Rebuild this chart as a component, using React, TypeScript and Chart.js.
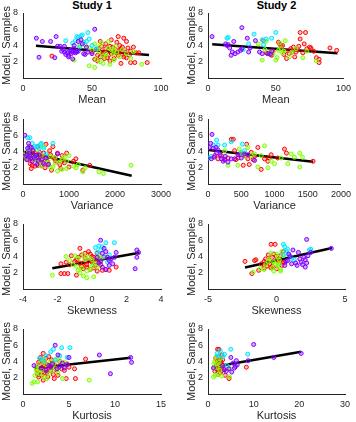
import React, { useEffect, useRef } from 'react';
import { Chart, registerables } from 'chart.js';
Chart.register(...registerables);

type Pt = [number, number];

// ---------- Study 1 ----------
const s1MeanPurple: Pt[] = [[9.7,4.9],[11.6,2.55],[14,4.5],[20,4.5],[24,5.1],[23,2.5],[25,3.9],[27,3.9],[28,3.3],[29,3.5],[30,3.2],[31,2.9],[32,3.1],[33,2.6],[34,3.4],[35,3.3],[35,3.0],[36,3.2],[36,2.35],[37,3.6],[37,4.0],[38,3.1],[38,3.3],[39,3.2],[40,4.5],[40,3.3],[42,4.7],[43,4.2],[44,3.0],[45,2.9],[46,3.8],[47,3.2],[50,3.0],[52,6.0],[33,2.8],[30,3.9]];
const s1MeanCyan: Pt[] = [[31,4.6],[38,4.6],[39,5.1],[40,5.0],[42,5.2],[43,5.3],[44,4.4],[47,5.6],[48,4.8],[36,4.3],[41,3.8],[46,4.5],[50,4.0],[33,3.2],[53,3.6]];
const s1MeanGreen: Pt[] = [[37,2.2],[41,4.0],[45,4.1],[48,1.5],[50,3.4],[52,1.3],[53,2.3],[55,3.8],[56,2.0],[57,4.3],[58,1.8],[60,3.0],[60,2.6],[62,4.5],[63,1.7],[64,3.5],[65,2.9],[66,2.2],[67,3.9],[68,3.2],[70,2.6],[72,3.5],[75,3.0],[78,2.4],[80,3.2],[86,1.7],[55,3.2],[58,2.7],[62,3.7],[48,3.7],[52,4.2],[66,3.4]];
const s1MeanRed: Pt[] = [[21,2.7],[50,3.2],[52,2.3],[53,3.5],[54,2.8],[55,3.6],[56,4.5],[57,3.9],[58,3.2],[59,2.4],[60,4.2],[60,3.6],[61,2.5],[62,3.4],[63,3.9],[63,2.1],[64,4.7],[64,3.0],[65,3.8],[66,2.4],[67,3.5],[68,4.4],[68,3.1],[69,5.1],[69,2.8],[70,4.0],[70,3.4],[71,1.8],[72,3.8],[72,2.9],[73,4.9],[74,3.2],[75,4.5],[75,2.5],[76,3.7],[77,2.8],[78,3.3],[78,1.9],[80,3.8],[81,1.9],[82,3.1],[84,3.1],[90,1.9],[56,2.6],[58,3.0],[54,2.1],[66,3.2],[62,2.8],[71,3.6],[73,2.6]];
const s1MeanFit: Pt[] = [[9.4,3.97],[91.3,2.83]];

const s1VarPurple: Pt[] = [[40,6.0],[80,3.0],[100,4.4],[120,5.0],[60,3.5],[150,3.4],[200,2.8],[250,3.3],[300,2.4],[350,3.6],[400,3.0],[450,2.5],[130,3.8],[170,3.2],[220,4.1],[280,3.5],[500,3.2],[550,2.4],[750,3.7],[90,3.6],[180,4.5],[330,2.9]];
const s1VarCyan: Pt[] = [[100,5.7],[150,5.7],[200,5.0],[250,4.6],[300,4.6],[350,4.4],[400,5.0],[450,4.4],[500,3.7],[650,5.0],[270,3.4],[120,4.3],[380,4.9]];
const s1VarGreen: Pt[] = [[20,3.6],[80,3.2],[120,3.9],[180,3.3],[250,3.0],[300,4.2],[350,2.7],[400,3.5],[450,4.6],[500,3.0],[550,2.6],[600,3.4],[650,2.1],[700,3.3],[750,1.6],[800,2.7],[850,1.8],[900,3.3],[950,1.9],[1000,3.5],[1100,2.2],[1200,2.4],[1300,1.5],[1350,2.0],[1650,1.5],[1750,1.3],[2350,2.3],[600,2.0],[850,3.1],[950,2.8],[1150,2.0],[400,2.2],[700,2.6]];
const s1VarRed: Pt[] = [[50,3.3],[100,3.0],[120,4.1],[140,4.6],[160,2.5],[180,1.9],[200,3.1],[220,4.2],[240,3.6],[260,2.2],[280,3.0],[300,3.2],[320,4.6],[340,2.7],[360,3.9],[380,3.4],[400,2.3],[420,3.1],[450,3.8],[480,2.0],[500,4.9],[520,3.3],[550,2.5],[580,4.1],[600,3.6],[620,1.7],[650,4.6],[680,3.2],[700,2.9],[750,3.8],[800,2.4],[820,1.9],[850,3.5],[900,2.6],[950,3.8],[1000,2.1],[1100,2.8],[1150,3.1],[1300,1.7],[1450,2.3],[160,3.5],[260,3.8],[330,2.3],[430,2.6],[530,2.8],[730,2.8],[870,2.9],[200,2.3]];
const s1VarFit: Pt[] = [[30,3.98],[2363,1.02]];

const s1SkewPurple: Pt[] = [[0.5,6.0],[0.6,4.4],[0.7,5.0],[0.8,4.6],[0.9,3.9],[1.0,3.5],[1.1,3.7],[1.2,3.1],[1.3,3.9],[1.4,4.5],[0.4,3.2],[0.6,2.7],[0.8,2.4],[2.5,2.5],[2.6,3.9],[2.6,4.8],[2.7,4.5],[0.3,3.9],[0.5,3.4],[1.0,2.9]];
const s1SkewCyan: Pt[] = [[0.2,5.1],[0.3,4.5],[0.4,5.3],[0.6,5.2],[0.8,5.7],[1.0,4.2],[1.3,5.7],[0.5,4.8],[0.9,3.3],[0.7,4.0]];
const s1SkewGreen: Pt[] = [[-2.3,1.7],[-1.5,4.0],[-1.3,3.5],[-1.0,4.1],[-0.9,2.8],[-0.8,2.3],[-0.7,2.0],[-0.6,2.6],[-0.5,1.6],[-0.4,3.6],[-0.3,2.2],[-0.2,3.9],[-0.1,2.4],[0.0,3.6],[0.1,1.5],[0.2,3.2],[0.4,4.0],[0.5,3.8],[-0.3,1.4],[-0.5,4.2],[0.0,2.8],[-1.1,3.0],[-0.8,3.8],[0.3,2.7]];
const s1SkewRed: Pt[] = [[-1.8,3.1],[-1.8,1.9],[-1.6,1.9],[-1.5,3.3],[-1.3,3.0],[-1.2,4.1],[-1.0,3.4],[-0.9,3.6],[-0.8,3.9],[-0.7,5.0],[-0.6,4.2],[-0.5,2.5],[-0.5,3.2],[-0.4,4.4],[-0.3,3.0],[-0.3,2.7],[-0.2,4.6],[-0.2,3.5],[-0.1,2.4],[0.0,3.3],[0.0,4.0],[0.1,2.6],[0.2,3.6],[0.3,4.4],[0.3,2.2],[0.5,3.0],[0.6,2.3],[0.7,3.9],[0.8,2.4],[1.0,2.3],[1.4,2.7],[-0.9,1.7],[-0.6,2.8],[-0.4,3.8],[0.1,3.9],[-1.4,1.9],[0.4,3.4],[-0.1,4.3],[-0.7,3.2],[0.2,2.9]];
const s1SkewFit: Pt[] = [[-2.3,2.55],[2.75,4.45]];

const s1KurtPurple: Pt[] = [[1.2,3.5],[2.0,3.2],[2.5,2.9],[3.0,3.3],[3.5,6.0],[3.7,3.1],[3.8,4.8],[4.0,3.4],[4.3,3.8],[4.5,3.2],[4.8,3.6],[5.0,4.5],[8.3,4.8],[9.5,2.5],[11.7,4.5],[11.8,3.9],[3.2,3.7],[2.8,3.5]];
const s1KurtCyan: Pt[] = [[1.8,4.4],[2.5,4.7],[3.0,5.2],[3.3,5.5],[4.2,5.7],[5.1,5.7],[4.8,4.5],[3.5,4.2],[2.2,4.1],[4.0,4.7]];
const s1KurtGreen: Pt[] = [[1.0,1.3],[1.2,1.5],[1.3,2.3],[1.5,2.8],[1.5,3.5],[1.6,1.5],[1.7,3.0],[1.8,2.5],[2.0,3.9],[2.2,2.1],[2.3,4.3],[2.5,3.6],[2.6,1.9],[2.8,2.5],[3.0,4.0],[3.2,2.9],[3.4,3.8],[3.5,3.2],[3.8,2.6],[4.0,4.1],[4.3,1.9],[4.5,3.9],[7.2,1.7],[1.4,3.2],[2.1,2.9],[3.6,4.3]];
const s1KurtRed: Pt[] = [[1.5,3.0],[1.6,2.4],[1.7,2.1],[1.8,3.6],[1.9,2.8],[2.0,4.1],[2.0,2.3],[2.1,3.2],[2.2,5.0],[2.2,1.7],[2.3,3.9],[2.4,2.6],[2.5,4.4],[2.5,3.0],[2.6,3.6],[2.7,2.1],[2.8,4.6],[2.9,3.4],[3.0,2.9],[3.1,4.2],[3.2,3.8],[3.3,2.4],[3.4,1.9],[3.5,3.5],[3.6,3.0],[3.8,2.3],[4.0,4.0],[4.2,3.1],[4.5,2.9],[4.8,3.7],[5.0,3.3],[5.6,3.1],[4.7,1.9],[5.7,1.9],[6.8,4.3],[1.9,4.5],[2.3,3.4],[3.0,3.4],[2.6,2.7],[1.7,3.9]];
const s1KurtFit: Pt[] = [[1.3,3.16],[11.7,4.47]];

// ---------- Study 2 ----------
const s2MeanPurple: Pt[] = [[3,5.1],[15,4.1],[16,3.7],[17,2.8],[18,3.2],[19,4.5],[20,3.0],[22,3.2],[24,3.4],[25,6.2],[25,3.6],[29,4.9],[30,3.2],[31,3.7],[35,4.6],[38,3.2],[40,3.0],[44,3.0],[46,2.9],[47,3.3],[14,4.0],[13,4.2]];
const s2MeanCyan: Pt[] = [[14,4.9],[15,5.0],[26,3.5],[30,4.2],[34,5.4],[40,4.7],[43,4.8],[47,4.9],[50,5.6],[41,4.1]];
const s2MeanGreen: Pt[] = [[37,4.2],[40,2.2],[43,4.5],[46,3.2],[48,3.0],[50,2.2],[51,2.5],[52,3.4],[53,4.3],[54,3.6],[56,3.3],[57,4.6],[60,2.6],[62,3.2],[65,3.6],[70,2.5],[73,3.3],[80,2.1],[42,3.5],[55,3.1]];
const s2MeanRed: Pt[] = [[41,4.6],[43,3.1],[45,3.0],[47,2.8],[48,3.3],[52,4.4],[53,4.2],[54,3.9],[55,4.0],[56,2.9],[57,3.3],[58,2.4],[60,3.0],[61,3.6],[63,3.8],[64,2.6],[65,3.2],[66,3.5],[67,3.9],[68,5.6],[68,4.8],[70,3.1],[71,4.2],[72,5.6],[73,3.6],[75,3.8],[76,3.7],[78,3.3],[80,2.5],[82,2.3],[82,1.9],[90,3.7],[95,3.4],[62,3.2]];
const s2MeanFit: Pt[] = [[3.1,4.15],[95.6,3.04]];

const s2VarPurple: Pt[] = [[20,4.5],[40,5.0],[50,3.1],[60,6.1],[80,4.4],[90,3.3],[120,4.5],[150,4.2],[180,3.6],[200,3.1],[230,2.8],[260,3.4],[300,2.7],[350,3.1],[400,3.1],[450,3.6],[500,3.2],[550,3.7],[600,3.6],[700,2.9],[130,3.8],[250,3.0]];
const s2VarCyan: Pt[] = [[10,3.2],[50,3.4],[80,4.8],[130,5.4],[150,4.8],[250,4.8],[350,5.2],[500,3.8],[520,4.9],[550,4.1]];
const s2VarGreen: Pt[] = [[250,4.1],[300,2.3],[450,2.3],[470,4.3],[500,3.9],[550,3.4],[600,4.5],[650,3.5],[750,2.1],[800,3.5],[850,4.7],[900,2.0],[950,2.8],[1000,2.5],[1100,3.2],[1200,2.5],[1250,3.7],[1300,3.3],[1380,3.8],[1380,2.1],[1420,3.3],[700,3.7]];
const s2VarRed: Pt[] = [[100,3.5],[150,3.1],[200,3.5],[250,3.0],[300,3.2],[350,5.5],[380,5.5],[400,4.1],[420,3.0],[450,3.2],[480,3.6],[530,2.3],[580,4.9],[600,3.1],[620,2.4],[650,3.9],[680,3.0],[700,3.4],[750,4.5],[800,1.8],[850,3.1],[900,2.8],[950,3.6],[1050,3.2],[1150,4.3],[1180,3.8],[1580,2.8],[920,3.2],[560,3.5]];
const s2VarFit: Pt[] = [[10,4.18],[1581,2.75]];

const s2SkewPurple: Pt[] = [[0.6,2.9],[0.7,3.4],[0.8,3.5],[1.0,4.0],[1.2,4.8],[1.4,3.2],[1.5,2.9],[1.6,4.5],[1.8,3.3],[1.9,3.0],[2.0,3.9],[2.1,2.7],[2.1,3.6],[2.3,4.1],[2.2,3.2],[2.2,6.1],[2.5,4.5],[4.0,5.0],[1.1,3.1],[1.7,3.7],[0.9,4.3]];
const s2SkewCyan: Pt[] = [[0.5,5.5],[0.6,5.2],[0.7,4.7],[0.8,4.9],[0.9,4.2],[1.1,3.7],[1.3,3.6],[2.4,4.8],[2.5,4.9],[0.5,4.2]];
const s2SkewGreen: Pt[] = [[-1.7,2.1],[-1.2,2.5],[-0.8,3.0],[-0.6,3.4],[-0.4,4.4],[-0.3,2.6],[-0.2,2.2],[-0.1,3.1],[0.0,4.3],[0.1,3.9],[0.2,3.1],[0.3,2.4],[0.4,4.6],[0.3,2.2],[-0.5,3.7],[0.1,2.9],[-0.9,2.4],[0.2,3.6],[0.5,4.1],[-0.2,3.3]];
const s2SkewRed: Pt[] = [[-2.3,3.4],[-1.8,1.9],[-1.5,3.6],[-1.3,2.3],[-1.1,3.1],[-0.9,2.6],[-0.8,3.7],[-0.6,4.2],[-0.5,3.1],[-0.4,5.5],[-0.3,3.9],[-0.3,2.8],[-0.1,5.5],[0.0,4.0],[0.1,3.6],[0.2,3.1],[0.3,4.1],[0.4,2.9],[0.5,4.6],[0.5,3.3],[-0.7,2.8],[-0.2,4.3],[-1.6,3.5],[0.0,2.5],[-0.5,3.6],[0.2,3.7],[-0.9,3.4],[-0.4,2.6],[0.6,3.3]];
const s2SkewFit: Pt[] = [[-2.3,2.65],[4.05,5.05]];

const s2KurtPurple: Pt[] = [[1.2,3.2],[3.2,3.5],[3.6,3.0],[4.0,2.8],[4.6,3.1],[5.0,4.5],[5.2,2.7],[5.8,3.2],[6.0,3.4],[6.2,4.1],[6.4,3.6],[8.8,4.1],[10.0,6.1],[14.4,4.5],[20.4,5.0],[5.5,3.8]];
const s2KurtCyan: Pt[] = [[2.2,4.7],[2.7,5.3],[3.3,4.6],[3.6,4.9],[5.0,5.5],[8.7,4.9],[2.0,5.0],[4.2,3.5]];
const s2KurtGreen: Pt[] = [[1.2,2.1],[1.4,3.2],[1.5,4.0],[1.6,2.3],[1.8,4.6],[2.0,3.3],[2.2,2.4],[2.4,3.9],[2.6,2.9],[2.8,4.4],[3.0,2.2],[3.3,3.4],[4.7,2.1],[4.9,3.1],[1.3,3.7],[2.5,3.6]];
const s2KurtRed: Pt[] = [[1.5,2.8],[1.8,3.3],[1.9,3.6],[2.0,4.2],[2.1,5.5],[2.2,2.4],[2.3,3.1],[2.4,5.5],[2.5,4.6],[2.6,3.8],[2.7,2.6],[2.8,4.0],[2.9,3.3],[3.0,3.7],[3.1,2.9],[3.2,4.2],[3.3,3.5],[3.5,3.0],[3.8,2.3],[4.6,1.9],[8.4,3.3],[1.7,4.4],[2.0,3.0],[2.4,3.4],[3.0,4.8],[2.2,3.9]];
const s2KurtFit: Pt[] = [[1.4,3.36],[20.4,5.2]];

const groupColors = ['#8000ff', '#00e5ff', '#80ff00', '#ff0000'];
const groupFills = ['rgba(128,0,255,0.35)', 'rgba(0,229,255,0.35)', 'rgba(128,255,0,0.35)', 'rgba(255,0,0,0.25)'];
const yTicks = [0, 2, 4, 6, 8];

const FONT = '"Liberation Sans", Arial, Helvetica, sans-serif';
const AXC = '#262626';

interface PanelProps {
  left: number; top: number; width: number;
  yW: number; tickPad: number; padRight: number;
  xMin: number; xMax: number; xStep: number; xLabel: string;
  groups: Pt[][]; fit: Pt[];
}

function Panel(p: PanelProps) {
  const ref = useRef<HTMLCanvasElement>(null);
  useEffect(() => {
    if (!ref.current) return;
    const datasets: any[] = p.groups.map((g, i) => ({
      type: 'scatter',
      data: g.map(([x, y]) => ({ x, y })),
      pointRadius: 2,
      pointBorderWidth: 1,
      borderColor: groupColors[i],
      backgroundColor: groupFills[i],
      pointBorderColor: groupColors[i],
      pointBackgroundColor: groupFills[i],
    }));
    datasets.push({
      type: 'line',
      data: p.fit.map(([x, y]) => ({ x, y })),
      borderColor: '#000000',
      borderWidth: 2.5,
      pointRadius: 0,
      showLine: true,
      fill: false,
    });
    const chart = new Chart(ref.current, {
      type: 'scatter',
      data: { datasets },
      options: {
        animation: false,
        responsive: false,
        devicePixelRatio: 1,
        events: [],
        layout: { padding: { top: 13, left: 0, right: p.padRight, bottom: 0 } },
        plugins: { legend: { display: false }, tooltip: { enabled: false }, title: { display: false } },
        scales: {
          x: {
            type: 'linear',
            min: p.xMin, max: p.xMax,
            afterFit: (s: any) => { s.height = 32; },
            grid: { display: false, drawTicks: false },
            border: { display: true, color: AXC, width: 1 },
            ticks: { stepSize: p.xStep, padding: 5, color: AXC, font: { family: FONT, size: 9 }, maxRotation: 0, autoSkip: false, callback: (v: any) => String(v) },
            title: { display: true, text: p.xLabel, color: AXC, font: { family: FONT, size: 11 }, padding: { top: 0, bottom: 3 } },
          },
          y: {
            type: 'linear',
            min: 0, max: 8,
            afterFit: (s: any) => { s.width = p.yW; },
            afterBuildTicks: (s: any) => { s.ticks = yTicks.map((v) => ({ value: v })); },
            grid: { display: false, drawTicks: false },
            border: { display: true, color: AXC, width: 1 },
            ticks: { padding: p.tickPad, color: AXC, font: { family: FONT, size: 9 }, callback: (v: any) => (v === 0 ? '' : String(v)) },
            title: { display: true, text: 'Model, Samples', color: AXC, font: { family: FONT, size: 11 }, padding: { top: 0, bottom: 0 } },
          },
        },
      } as any,
    });
    return () => chart.destroy();
  }, []);
  return (
    <canvas ref={ref} width={p.width} height={110}
      style={{ position: 'absolute', left: p.left, top: p.top, width: p.width, height: 110 }} />
  );
}

const rowTops = [0, 106, 211, 316];

export default function App() {
  const L = { left: 0, width: 178, yW: 23, tickPad: 5, padRight: 17 };
  const R = { left: 185, width: 171, yW: 23, tickPad: 5, padRight: 11 };
  const titleStyle = (cx: number): React.CSSProperties => ({
    position: 'absolute', top: -1, left: cx - 40, width: 80, textAlign: 'center',
    fontFamily: FONT, fontWeight: 'bold', fontSize: 11, lineHeight: '12px', color: '#000',
  });
  return (
    <div style={{ position: 'absolute', left: 0, top: 0, width: 356, height: 422, background: '#fff', overflow: 'hidden' }}>
      <div style={titleStyle(92)}>Study 1</div>
      <div style={titleStyle(276.5)}>Study 2</div>
      <Panel {...L} top={rowTops[0]} xMin={0} xMax={100} xStep={50} xLabel="Mean" groups={[s1MeanPurple, s1MeanCyan, s1MeanGreen, s1MeanRed]} fit={s1MeanFit} />
      <Panel {...R} top={rowTops[0]} xMin={0} xMax={100} xStep={50} xLabel="Mean" groups={[s2MeanPurple, s2MeanCyan, s2MeanGreen, s2MeanRed]} fit={s2MeanFit} />
      <Panel {...L} top={rowTops[1]} xMin={0} xMax={3000} xStep={1000} xLabel="Variance" groups={[s1VarPurple, s1VarCyan, s1VarGreen, s1VarRed]} fit={s1VarFit} />
      <Panel {...R} top={rowTops[1]} xMin={0} xMax={2000} xStep={500} xLabel="Variance" groups={[s2VarPurple, s2VarCyan, s2VarGreen, s2VarRed]} fit={s2VarFit} />
      <Panel {...L} top={rowTops[2]} xMin={-4} xMax={4} xStep={2} xLabel="Skewness" groups={[s1SkewPurple, s1SkewCyan, s1SkewGreen, s1SkewRed]} fit={s1SkewFit} />
      <Panel {...R} top={rowTops[2]} xMin={-5} xMax={5} xStep={5} xLabel="Skewness" groups={[s2SkewPurple, s2SkewCyan, s2SkewGreen, s2SkewRed]} fit={s2SkewFit} />
      <Panel {...L} top={rowTops[3]} xMin={0} xMax={15} xStep={5} xLabel="Kurtosis" groups={[s1KurtPurple, s1KurtCyan, s1KurtGreen, s1KurtRed]} fit={s1KurtFit} />
      <Panel {...R} top={rowTops[3]} xMin={0} xMax={30} xStep={10} xLabel="Kurtosis" groups={[s2KurtPurple, s2KurtCyan, s2KurtGreen, s2KurtRed]} fit={s2KurtFit} />
    </div>
  );
}
